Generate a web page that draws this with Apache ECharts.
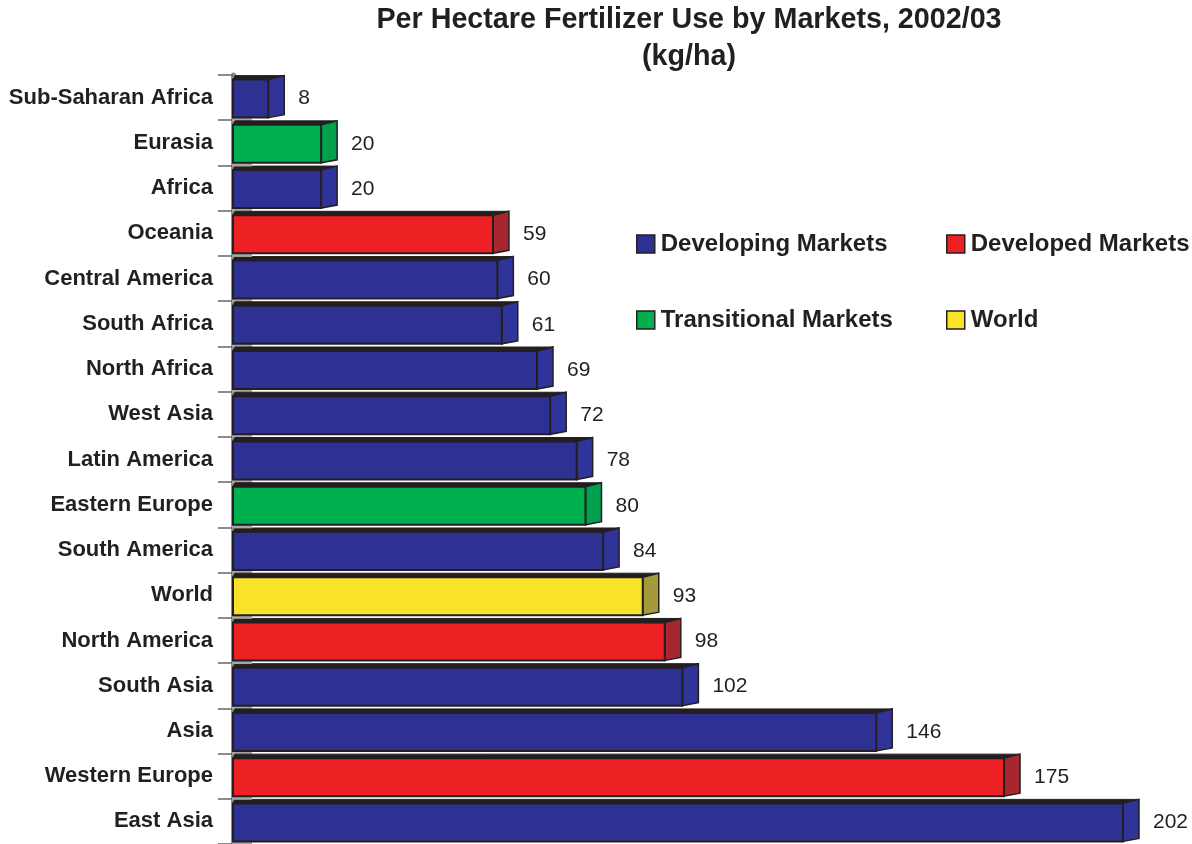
<!DOCTYPE html>
<html>
<head>
<meta charset="utf-8">
<script src="https://cdn.jsdelivr.net/npm/echarts@6/dist/echarts.min.js"></script>
<style>html,body{margin:0;padding:0;background:#fff}#c{width:1192px;height:844px}</style>
</head>
<body>
<div id="c"></div>
<script>
const categories = ['Sub-Saharan Africa','Eurasia','Africa','Oceania','Central America','South Africa','North Africa','West Asia','Latin America','Eastern Europe','South America','World','North America','South Asia','Asia','Western Europe','East Asia'];
const values = [8,20,20,59,60,61,69,72,78,80,84,93,98,102,146,175,202];
const markets = ['Developing Markets','Transitional Markets','Developing Markets','Developed Markets','Developing Markets','Developing Markets','Developing Markets','Developing Markets','Developing Markets','Transitional Markets','Developing Markets','World','Developed Markets','Developing Markets','Developing Markets','Developed Markets','Developing Markets'];
const marketNames = ['Developing Markets','Developed Markets','Transitional Markets','World'];
const frontColors = ['#2E3192','#ED2024','#00B04F','#F9E32A'];
const sideColors = ['#30339A','#A8262E','#00A04E','#A39B3B'];

const INK = '#231F20';
const FONT = 'Arial';
function makeRender(mi) {
  return function (params, api) {
    const v = api.value(0), cat = api.value(1);
    const p0 = api.coord([0, cat]);
    const p1 = api.coord([v, cat]);
    const band = api.size([0, 1])[1];
    const yc = p0[1];
    const yf = yc - 18, yb = yc + 20;
    const x0 = p0[0], x1 = p1[0];
    const dx = 16, dy = -4;
    const yBound = yc + band / 2;
    return {
      type: 'group',
      children: [
        { type: 'rect', shape: { x: x0 - 1, y: yBound - 3, width: 20, height: 4 }, style: { fill: '#A7A7A7' } },
        { type: 'polygon', shape: { points: [[x0, yf], [x0 + 2, yf + dy], [x1 + dx, yf + dy], [x1, yf]] }, style: { fill: INK, stroke: INK, lineWidth: 1 } },
        { type: 'polygon', shape: { points: [[x1, yf], [x1 + dx, yf + dy], [x1 + dx, yb + dy + 1], [x1, yb]] }, style: { fill: sideColors[mi], stroke: INK, lineWidth: 1.5 } },
        { type: 'rect', shape: { x: x0, y: yf, width: x1 - x0, height: yb - yf }, style: { fill: frontColors[mi], stroke: INK, lineWidth: 2 } },
        { type: 'text', x: x1 + dx + 14, y: yc + 1, style: { text: String(v), fill: INK, fontSize: 21, fontFamily: FONT, verticalAlign: 'middle', align: 'left' } }
      ]
    };
  };
}

const series = marketNames.map((name, mi) => ({
  name: name,
  type: 'custom',
  renderItem: makeRender(mi),
  itemStyle: { color: frontColors[mi], borderColor: INK, borderWidth: 1.5 },
  encode: { x: 0, y: 1 },
  data: values.map((v, i) => markets[i] === name ? [v, i] : null).filter(d => d),
  z: 3
}));

const legendPos = [[636, 232], [946, 232], [636, 308], [946, 308]];
const legends = marketNames.map((name, mi) => ({
  data: [name],
  left: legendPos[mi][0],
  top: legendPos[mi][1],
  icon: 'rect',
  itemWidth: 18,
  itemHeight: 18,
  itemGap: 0,
  padding: 0,
  selectedMode: false,
  itemStyle: { borderColor: INK, borderWidth: 1.5 },
  textStyle: { fontSize: 24, fontWeight: 'bold', color: INK, fontFamily: FONT, padding: [0, 0, 0, 1] }
}));

const chart = echarts.init(document.getElementById('c'));
chart.setOption({
  animation: false,
  backgroundColor: '#fff',
  title: {
    text: 'Per Hectare Fertilizer Use by Markets, 2002/03\n(kg/ha)',
    left: 684,
    textAlign: 'center',
    top: -3,
    textStyle: { fontSize: 28.7, fontWeight: 'bold', color: INK, fontFamily: FONT, lineHeight: 37 }
  },
  legend: legends,
  grid: { left: 233, top: 75, width: 890, height: 770, containLabel: false },
  xAxis: { type: 'value', min: 0, max: 202, show: false },
  yAxis: {
    type: 'category',
    data: categories,
    inverse: true,
    axisLine: { show: true, lineStyle: { color: '#8C8C8C', width: 5 } },
    axisTick: { show: true, length: 15, lineStyle: { color: '#666', width: 1.5 } },
    axisLabel: { fontSize: 22, fontWeight: 'bold', color: INK, margin: 20, fontFamily: FONT, padding: [5, 0, 0, 0] },
    splitLine: { show: false }
  },
  series: series
});
</script>
</body>
</html>
